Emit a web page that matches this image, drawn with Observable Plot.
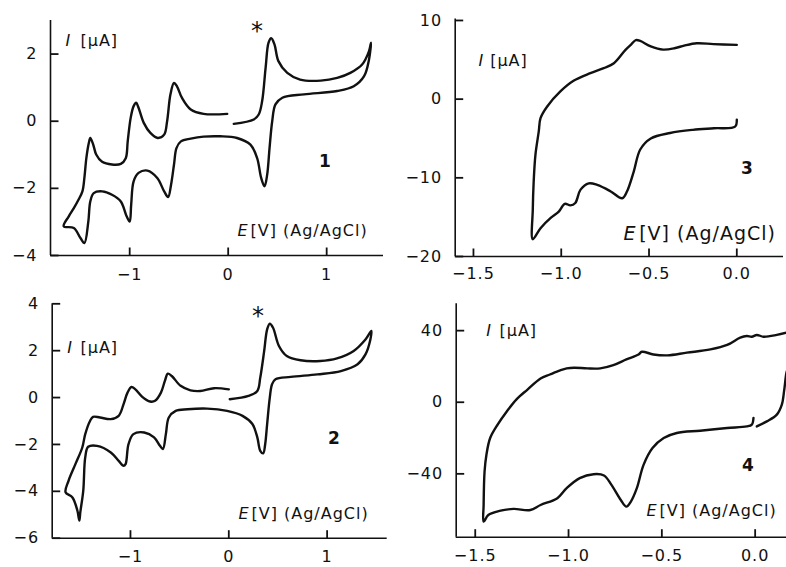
<!DOCTYPE html>
<html><head><meta charset="utf-8">
<script src="https://cdn.jsdelivr.net/npm/d3@7"></script>
<script src="https://cdn.jsdelivr.net/npm/@observablehq/plot@0.6"></script>
<style>
html,body{margin:0;padding:0;background:#fff;}
#chart{position:relative;width:786px;height:567px;overflow:hidden;background:#fff;}
#chart svg{position:absolute;left:0;top:0;}
</style></head><body><div id="chart"></div>
<script>
// ---- Panel 1 (cyclic voltammogram, E in V, I in µA) ----
const p1E = [0.057,0.26,0.31,0.345,0.38,0.41,0.437,0.47,0.51,0.60,0.73,0.94,1.107,1.24,1.36,1.43,1.45,1.43,1.38,1.275,1.107,0.77,0.55,0.48,0.447,0.42,0.396,0.369,0.335,0.294,0.226,0.09,-0.08,
  -0.25,-0.38,-0.48,-0.525,-0.55,-0.58,-0.61,-0.65,-0.72,-0.82,-0.91,-0.96,-0.985,-1.0,-1.03,-1.09,-1.18,-1.28,-1.365,-1.40,-1.42,-1.46,-1.50,-1.567,-1.67,
  -1.62,-1.567,-1.52,-1.48,-1.46,-1.44,-1.415,-1.40,-1.37,-1.34,-1.28,-1.18,-1.09,-1.04,-1.02,-0.99,-0.96,-0.934,-0.91,-0.857,-0.79,-0.715,-0.65,-0.62,-0.586,-0.55,-0.52,-0.47,-0.38,-0.25,-0.01];
const p1I = [-0.08,0.05,0.2,0.6,1.59,2.34,2.47,2.29,1.79,1.44,1.24,1.21,1.29,1.44,1.69,2.09,2.34,1.84,1.34,1.04,0.90,0.80,0.70,0.50,0.0,-0.80,-1.59,-1.94,-1.69,-1.10,-0.70,-0.50,-0.45,
  -0.46,-0.52,-0.60,-0.80,-1.29,-1.89,-2.26,-2.09,-1.69,-1.47,-1.54,-1.79,-2.49,-2.99,-2.84,-2.39,-2.19,-2.09,-2.14,-2.39,-2.99,-3.63,-3.48,-3.18,-3.13,
  -2.84,-2.59,-2.34,-2.09,-1.69,-1.10,-0.65,-0.50,-0.70,-0.99,-1.21,-1.29,-1.27,-1.10,-0.60,0.10,0.45,0.55,0.40,-0.05,-0.35,-0.50,-0.40,0.0,0.80,1.14,1.04,0.70,0.35,0.22,0.22];

// ---- Panel 2 ----
const p2E = [0.01,0.20,0.29,0.32,0.36,0.39,0.417,0.45,0.51,0.59,0.73,0.93,1.10,1.27,1.39,1.45,1.44,1.39,1.31,1.14,0.90,0.63,0.475,0.44,0.417,0.39,0.37,0.35,0.32,0.29,0.24,0.14,-0.017,
  -0.22,-0.42,-0.54,-0.61,-0.64,-0.67,-0.70,-0.76,-0.86,-0.97,-1.02,-1.05,-1.07,-1.12,-1.20,-1.34,-1.43,-1.46,-1.48,-1.51,-1.52,-1.54,-1.59,-1.66,
  -1.63,-1.56,-1.49,-1.46,-1.41,-1.38,-1.31,-1.20,-1.12,-1.07,-1.03,-0.99,-0.95,-0.88,-0.80,-0.75,-0.69,-0.65,-0.62,-0.58,-0.49,-0.39,-0.29,-0.15,0.0];
const p2I = [-0.07,0.07,0.28,0.85,1.99,2.91,3.15,2.98,2.2,1.77,1.59,1.56,1.67,1.99,2.48,2.84,2.48,1.84,1.42,1.13,0.99,0.88,0.78,0.57,0.0,-1.13,-1.99,-2.38,-2.27,-1.70,-1.13,-0.78,-0.57,
  -0.47,-0.50,-0.57,-0.85,-1.56,-2.20,-2.06,-1.70,-1.49,-1.56,-1.99,-2.84,-2.91,-2.70,-2.34,-2.06,-2.10,-2.55,-3.97,-4.89,-5.25,-4.82,-4.26,-4.04,
  -3.55,-2.84,-2.13,-1.56,-0.99,-0.82,-0.85,-0.92,-0.78,-0.28,0.21,0.45,0.35,0.03,-0.17,-0.14,0.21,0.71,1.02,0.92,0.50,0.31,0.28,0.40,0.35];

// ---- Panel 3 ----
const p3E = [0,-0.133,-0.228,-0.30,-0.35,-0.42,-0.49,-0.55,-0.575,-0.60,-0.634,-0.70,-0.758,-0.834,-0.93,-1.005,-1.08,-1.118,-1.128,-1.147,-1.157,-1.162,-1.162,
  -1.118,-1.06,-1.014,-0.98,-0.948,-0.92,-0.89,-0.843,-0.795,-0.72,-0.653,-0.625,-0.587,-0.55,-0.49,-0.38,-0.25,-0.13,-0.01,0];
const p3I = [6.9,7.0,7.1,6.8,6.5,6.3,6.7,7.4,7.5,7.0,6.27,4.57,3.94,3.30,2.33,0.98,-0.93,-2.41,-4.1,-7.07,-10.5,-14.0,-17.8,
  -16.4,-15.1,-14.3,-13.3,-13.5,-13.2,-11.5,-10.7,-10.9,-11.7,-12.6,-11.7,-9.2,-6.4,-5.0,-4.3,-3.9,-3.7,-3.5,-2.6];

// ---- Panel 4 (two traced pieces) ----
const p4aE = [0.17,0.116,0.045,0.009,-0.018,-0.045,-0.08,-0.15,-0.24,-0.366,-0.47,-0.545,-0.607,-0.625,-0.69,-0.76,-0.83,-0.90,-0.97,-1.01,-1.045,-1.10,-1.15,-1.22,-1.28,-1.33,-1.38,-1.42,-1.44,-1.45,-1.455,-1.455,
  -1.43,-1.37,-1.295,-1.205,-1.15,-1.06,-1.01,-0.94,-0.866,-0.81,-0.77,-0.72,-0.69,-0.666,-0.634,-0.598,-0.55,-0.49,-0.42,-0.295,-0.15,-0.045,-0.018,-0.009];
const p4aI = [38.9,37.6,36.6,37.6,36.6,37.0,36.1,32.0,29.5,27.7,26.2,26.7,28.2,26.7,23.9,20.7,18.9,18.9,19.3,18.9,17.8,15.5,13.3,7.1,1.5,-5.0,-12.5,-20.0,-29.3,-38.7,-57.4,-66.7,
  -63.0,-60.7,-59.6,-60.2,-57.4,-53.6,-48.0,-42.4,-40.2,-40.9,-46.2,-54.6,-58.3,-55.5,-48.0,-35.0,-25.6,-20.0,-17.2,-15.9,-14.4,-13.5,-12.5,-8.8];
const p4bE = [0.009,0.0625,0.116,0.143,0.155,0.166,0.17];
const p4bI = [-13.5,-10.7,-6.9,-1.3,6.2,15.5,17.4];

// ---- ticks and texts ----
const xTicks12 = [-1, 0, 1];
const yTicks1 = [-4, -2, 0, 2];
const yTicks2 = [-6, -4, -2, 0, 2, 4];
const xTicks34 = [-1.5, -1.0, -0.5, 0.0];
const yTicks3 = [-20, -10, 0, 10];
const yTicks4 = [-40, 0, 40];
const yLabel = ["I", "[μA]"];
const xLabel = ["E", "[V] (Ag/AgCl)"];
const panelIds = ["1", "2", "3", "4"];
const marker = "*";

const INK = "#111";
const FONT = "'DejaVu Sans', 'Liberation Sans', sans-serif";
const TICK = 8; // inward tick length, px
const table = (E, I, seg) => E.map((e, k) => ({E: e, I: I[k], seg}));

function txt(s, dx, dy, o = {}) {
  return Plot.text([s], {text: d => d, frameAnchor: "top-left", dx, dy, textAnchor: "start",
    lineAnchor: "middle", fill: INK, fontSize: 16, ...o});
}

function panel({data, xDomain, yDomain, xTicks, yTicks, xFmt, yFmt, frame, xPad, labels}) {
  const [L, R, T, B] = frame;
  const W = 786, H = 567;
  // tick length expressed in data units of each scale
  const tx = TICK * (xDomain[1] - xDomain[0]) / (R - L);
  const ty = TICK * (yDomain[1] - yDomain[0]) / (B - T);
  const x0 = xDomain[0], y0 = yDomain[0];
  return Plot.plot({
    width: W, height: H,
    marginLeft: L, marginRight: W - R, marginTop: T, marginBottom: H - B,
    style: {background: "transparent", overflow: "visible", fontFamily: FONT, fontSize: "16px", letterSpacing: "1px", color: INK},
    x: {domain: xDomain, label: null},
    y: {domain: yDomain, label: null},
    marks: [
      Plot.ruleX([x0], {stroke: INK, strokeWidth: 1.6}),
      Plot.ruleY([y0], {stroke: INK, strokeWidth: 1.6}),
      Plot.link(yTicks, {x1: () => x0, x2: () => x0 + tx, y1: d => d, y2: d => d, stroke: INK, strokeWidth: 1.8}),
      Plot.link(xTicks, {x1: d => d, x2: d => d, y1: () => y0, y2: () => y0 + ty, stroke: INK, strokeWidth: 1.8}),
      Plot.axisX({ticks: xTicks, tickSize: 0, tickPadding: xPad, tickFormat: xFmt, fill: INK, fontSize: 16, label: null}),
      Plot.axisY({ticks: yTicks, tickSize: 0, tickPadding: 13, tickFormat: yFmt, fill: INK, fontSize: 16, label: null}),
      Plot.line(data, {x: "E", y: "I", z: "seg", stroke: INK, strokeWidth: 2.4, curve: "catmull-rom", strokeLinejoin: "round"}),
      ...labels
    ]
  });
}

const fInt = d3.format("d");
const f1 = d3.format(".1f");
const chart = document.getElementById("chart");

chart.append(panel({
  data: table(p1E, p1I, "a"), xDomain: [-1.804, 1.577], yDomain: [-4, 3.0],
  xTicks: xTicks12, yTicks: yTicks1, xFmt: fInt, yFmt: fInt, frame: [50, 383, 20, 255], xPad: 13,
  labels: [
    txt(yLabel[0], 15, 20, {fontStyle: "italic"}), txt(yLabel[1], 30, 20),
    txt(xLabel[0], 187, 210, {fontStyle: "italic"}), txt(xLabel[1], 200, 210),
    txt(panelIds[0], 275, 141, {fontWeight: "bold", fontSize: 17, textAnchor: "middle"}),
    txt(marker, 207, 10.7, {fontSize: 24, textAnchor: "middle"})
  ]
}));

chart.append(panel({
  data: table(p2E, p2I, "a"), xDomain: [-1.796, 1.611], yDomain: [-6, 4],
  xTicks: xTicks12, yTicks: yTicks2, xFmt: fInt, yFmt: fInt, frame: [51.7, 386.7, 303.3, 537.7], xPad: 12,
  labels: [
    txt(yLabel[0], 15, 43.6, {fontStyle: "italic"}), txt(yLabel[1], 28.3, 43.6),
    txt(xLabel[0], 186.3, 209.6, {fontStyle: "italic"}), txt(xLabel[1], 199.3, 209.6),
    txt(panelIds[1], 282.3, 134.6, {fontWeight: "bold", fontSize: 17, textAnchor: "middle"}),
    txt(marker, 206.3, 12.4, {fontSize: 24, textAnchor: "middle"})
  ]
}));

chart.append(panel({
  data: table(p3E, p3I, "a"), xDomain: [-1.604, 0.266], yDomain: [-20, 10.2],
  xTicks: xTicks34, yTicks: yTicks3, xFmt: f1, yFmt: fInt, frame: [454.7, 783, 18.4, 256], xPad: 11,
  labels: [
    txt(yLabel[0], 23.3, 41.5, {fontStyle: "italic"}), txt(yLabel[1], 35, 41.5),
    txt(xLabel[0], 168.3, 215.5, {fontStyle: "italic", fontSize: 19}), txt(xLabel[1], 184, 215.5, {fontSize: 19}),
    txt(panelIds[2], 292.3, 149.2, {fontWeight: "bold", fontSize: 17, textAnchor: "middle"})
  ]
}));

chart.append(panel({
  data: table(p4aE, p4aI, "a").concat(table(p4bE, p4bI, "b")), xDomain: [-1.602, 0.168], yDomain: [-75.4, 55],
  xTicks: xTicks34, yTicks: yTicks4, xFmt: f1, yFmt: fInt, frame: [455.7, 786, 303.3, 536.7], xPad: 12,
  labels: [
    txt(yLabel[0], 30, 26.6, {fontStyle: "italic"}), txt(yLabel[1], 43.3, 26.6),
    txt(xLabel[0], 190.3, 206.6, {fontStyle: "italic"}), txt(xLabel[1], 203.3, 206.6),
    txt(panelIds[3], 292.3, 161.3, {fontWeight: "bold", fontSize: 17, textAnchor: "middle"})
  ]
}));
</script></body></html>
